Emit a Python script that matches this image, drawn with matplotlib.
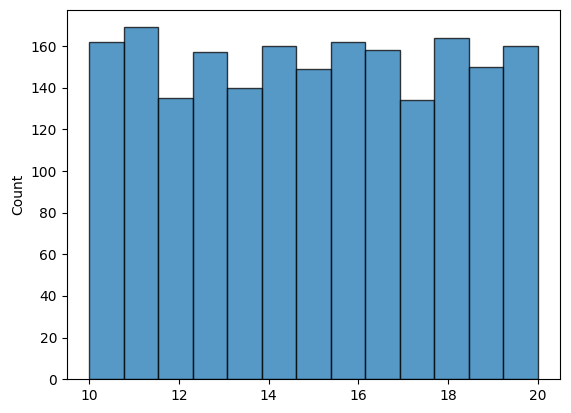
import numpy as np
import matplotlib
matplotlib.use("Agg")
import matplotlib.pyplot as plt

counts = [162, 169, 135, 157, 140, 160, 149, 162, 158, 134, 164, 150, 160]
bin_start, bin_end = 10, 20

edges = np.linspace(bin_start, bin_end, len(counts) + 1)
widths = np.diff(edges)

fig = plt.figure(figsize=(5.71, 4.13), dpi=100)
ax = fig.add_axes([0.117, 0.082, 0.864, 0.894])
ax.bar(edges[:-1], counts, width=widths, align="edge",
       color="#1f77b4", alpha=0.75, edgecolor="black", linewidth=1)
ax.set_ylabel("Count")
ax.set_xticks([10, 12, 14, 16, 18, 20])
ax.margins(x=0.05)
fig.savefig("out.png", dpi=100)
